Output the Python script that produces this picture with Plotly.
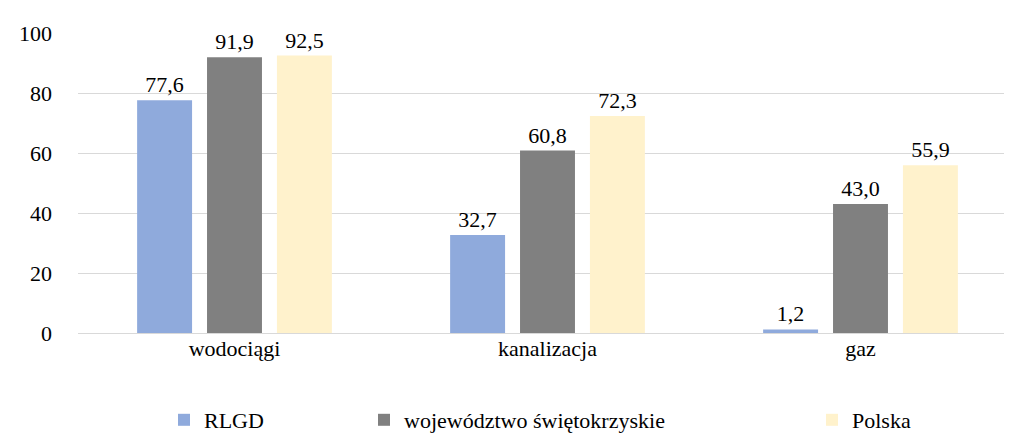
import plotly.graph_objects as go

categories = ["wodociągi", "kanalizacja", "gaz"]
rlgd = [77.6, 32.7, 1.2]
swietokrzyskie = [91.9, 60.8, 43.0]
polska = [92.5, 72.3, 55.9]

series_names = ["RLGD", "województwo świętokrzyskie", "Polska"]
colors = ["#8FAADC", "#808080", "#FFF2CC"]
values = [rlgd, swietokrzyskie, polska]
legend_ids = ["legend", "legend2", "legend3"]
legend_x = [0.0916, 0.3046, 0.7817]

font = dict(family="Liberation Serif", size=22, color="#000000")

fig = go.Figure()
for name, vals, col, lg in zip(series_names, values, colors, legend_ids):
    fig.add_trace(go.Bar(
        x=categories, y=vals, name=name,
        marker=dict(color=col, line=dict(width=0)),
        text=[f"{v:.1f}".replace(".", ",") for v in vals],
        textposition="outside", cliponaxis=False,
        textfont=font,
        legend=lg,
    ))

legend_common = dict(orientation="h", yanchor="middle", y=-0.29, xanchor="left",
                     font=font, bgcolor="rgba(0,0,0,0)")
layout_legends = {}
for lg, x in zip(legend_ids, legend_x):
    layout_legends[lg] = dict(legend_common, x=x)

fig.update_layout(
    width=1012, height=436,
    margin=dict(l=70, r=3, t=25, b=103),
    paper_bgcolor="white", plot_bgcolor="white",
    font=font,
    barmode="group", bargap=0.33, bargroupgap=0.214,
    xaxis=dict(showgrid=False, showline=False, ticks="", tickfont=font),
    yaxis=dict(range=[0, 100], dtick=20, showgrid=True, gridcolor="#D9D9D9", gridwidth=1,
               zeroline=True, zerolinecolor="#D9D9D9", zerolinewidth=1,
               tickfont=font, ticklabelstandoff=25),
    showlegend=True,
    **layout_legends,
)

fig.write_html("out.html")
